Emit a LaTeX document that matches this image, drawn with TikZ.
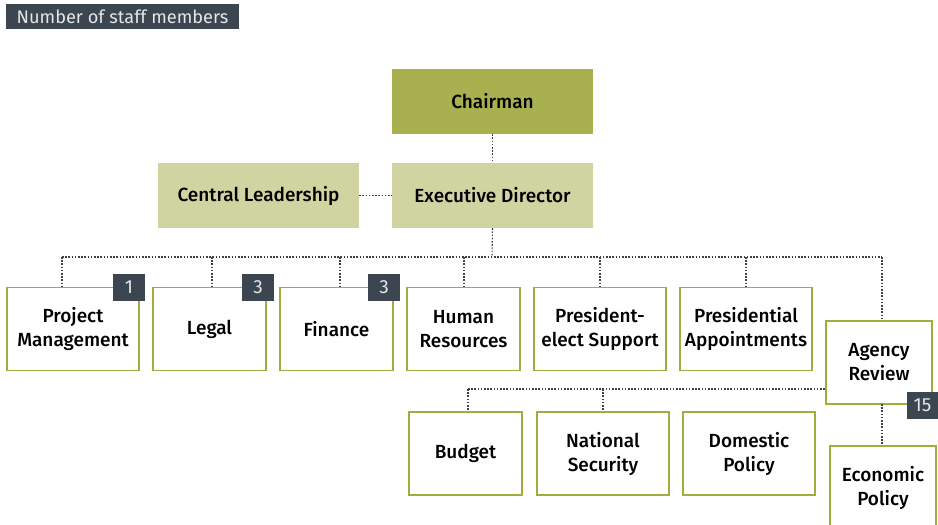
\documentclass[tikz,border=0pt]{standalone}
\usepackage{fontspec}
\setmainfont{Fira Sans}[BoldFont={Fira Sans Medium}]
\definecolor{slate}{HTML}{3B4651}
\definecolor{olive}{HTML}{A8B050}
\definecolor{lightolive}{HTML}{CFD4A0}
\definecolor{edge}{HTML}{A3AC3E}
\definecolor{badgetext}{HTML}{E4E6E8}
\definecolor{dots}{HTML}{404040}
\begin{document}
\begin{tikzpicture}[x=1pt,y=-1pt,
  every node/.style={font=\fontsize{19}{24}\selectfont\bfseries, align=center, inner sep=0pt},
  topbox/.style={minimum width=201pt, minimum height=65pt},
  unitbox/.style={draw=edge, line width=1.4pt, fill=white, minimum height=83pt},
  badge/.style={fill=slate, text=badgetext, font=\fontsize{19}{20}\selectfont, minimum width=32pt, minimum height=27pt},
  conn/.style={draw=dots, line width=1.1pt, dash pattern=on 1.6pt off 1.6pt}]
\useasboundingbox (0,0) rectangle (938,525);
\clip (0,0) rectangle (938,525);
% title
\node[fill=slate, text=badgetext, font=\fontsize{18.2}{20}\selectfont, minimum width=233pt, minimum height=25pt] (title) at (122.5,16.5) {Number of staff members};
% top
\node[topbox, fill=olive] (chair) at (492.5,101.5) {Chairman};
\node[topbox, fill=lightolive] (exec) at (492.5,195.5) {Executive Director};
\node[topbox, fill=lightolive] (central) at (258.5,195.5) {Central Leadership};
% coordinates
\coordinate (bus) at (492,257);
\coordinate (d1) at (62,257);
\coordinate (d2) at (212,257);
\coordinate (d3) at (340,257);
\coordinate (d4) at (464,257);
\coordinate (d5) at (600,257);
\coordinate (d6) at (746,257);
\coordinate (d7) at (882,257);
\coordinate (b1) at (468,389);
\coordinate (b2) at (603,389);
\coordinate (e1) at (882,404);
% units
\node[unitbox, minimum width=132pt] (pm) at (73,329) {Project\\Management};
\node[unitbox, minimum width=113pt] (legal) at (209.5,329) {Legal};
\node[unitbox, minimum width=113pt] (fin) at (336.5,329) {Finance};
\node[unitbox, minimum width=113pt] (hr) at (463.5,329) {Human\\Resources};
\node[unitbox, minimum width=132pt] (pes) at (600,329) {President-\\elect Support};
\node[unitbox, minimum width=132pt] (pa) at (746,329) {Presidential\\Appointments};
\node[unitbox, minimum width=106pt] (agency) at (879,362.5) {Agency\\Review};
\node[unitbox, minimum width=113pt] (budget) at (465.5,453.5) {Budget};
\node[unitbox, minimum width=132pt] (natsec) at (603,453.5) {National\\Security};
\node[unitbox, minimum width=132pt] (dom) at (749,453.5) {Domestic\\Policy};
\node[unitbox, minimum width=106pt] (econ) at (883,487.5) {Economic\\Policy};
% badges
\node[badge] (bpm) at (129,287.5) {1};
\node[badge] (blegal) at (258,287.5) {3};
\node[badge] (bfin) at (384,287.5) {3};
\node[badge, minimum width=31pt] (bagency) at (922.5,405.5) {15};
% connectors
\draw[conn] (chair.south) -- (exec.north);
\draw[conn] (central.east) -- (exec.west);
\draw[conn] (exec.south) -- (bus);
\draw[conn] (d1) -- (d7);
\draw[conn] (d1) -- (d1 |- pm.north);
\draw[conn] (d2) -- (d2 |- legal.north);
\draw[conn] (d3) -- (d3 |- fin.north);
\draw[conn] (d4) -- (d4 |- hr.north);
\draw[conn] (d5) -- (d5 |- pes.north);
\draw[conn] (d6) -- (d6 |- pa.north);
\draw[conn] (d7) -- (d7 |- agency.north);
\draw[conn] (b1) -- (b1 -| agency.west);
\draw[conn] (b1) -- (b1 |- budget.north);
\draw[conn] (b2) -- (b2 |- natsec.north);
\draw[conn] (e1) -- (e1 |- econ.north);
\end{tikzpicture}
\end{document}
